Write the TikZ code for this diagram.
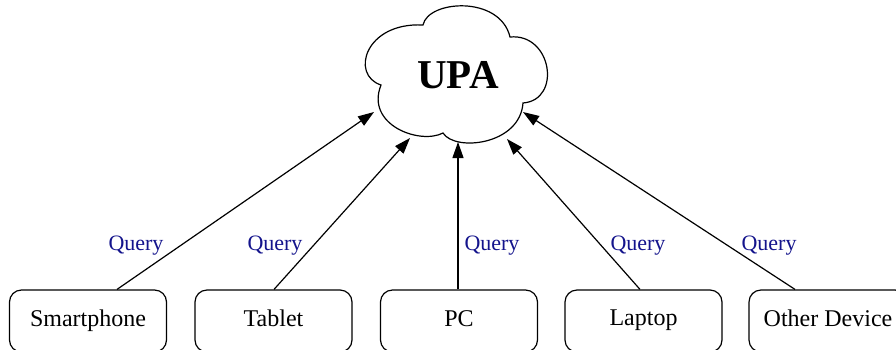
\documentclass[tikz,border=0pt]{standalone}
\usepackage{fontspec}
\setmainfont{Liberation Serif}
\usetikzlibrary{arrows.meta}
\definecolor{querycol}{RGB}{20,20,140}
\begin{document}
\begin{tikzpicture}[x=1pt,y=-1pt,
  device/.style={draw,line width=1.2pt,rounded corners=12pt,minimum width=157pt,
    minimum height=62pt,font=\fontsize{24}{28}\selectfont,text height=16pt,text depth=5pt},
  query/.style={anchor=base,text=querycol,font=\fontsize{22}{26}\selectfont,inner sep=0pt},
  link/.style={line width=1.2pt,-{Triangle[length=16pt,width=11pt]}}]
\useasboundingbox (0,0) rectangle (896,349);
\clip (0,0) rectangle (896,349);

% cloud outline
\draw[line width=1.2pt,fill=white]
  (423,25) .. controls (428,0) and (500,-5) .. (510,37)
  .. controls (552,33) and (562,100) .. (523,103)
  .. controls (520,145) and (455,152) .. (443,133)
  .. controls (420,145) and (365,125) .. (381,85)
  .. controls (350,75) and (365,22) .. cycle;
\node[font=\fontsize{41}{45}\selectfont\bfseries] (upa) at (458,75) {UPA};

% arrow end points on the cloud rim
\coordinate (c1) at (374,112);
\coordinate (c2) at (410,138);
\coordinate (c3) at (458,142);
\coordinate (c4) at (507,139);
\coordinate (c5) at (523,112);

% devices
\node[device] (sp) at (88,321) {Smartphone};
\node[device] (tb) at (273.5,321) {Tablet};
\node[device] (pc) at (459,321) {PC};
\node[device,text height=14pt] (lp) at (643.5,321) {Laptop};
\node[device,minimum width=158pt] (od) at (828,321) {Other Device};

% queries
\draw[link] ([xshift=29pt]sp.north) -- (c1);
\draw[link] ([xshift=0.5pt]tb.north) -- (c2);
\draw[link] ([xshift=-1pt]pc.north) -- (c3);
\draw[link] ([xshift=-3.5pt]lp.north) -- (c4);
\draw[link] ([xshift=-33pt]od.north) -- (c5);

\node[query] (q1) at (136,250) {Query};
\node[query] (q2) at (275,250) {Query};
\node[query] (q3) at (492,250) {Query};
\node[query] (q4) at (638,250) {Query};
\node[query] (q5) at (769,250) {Query};
\end{tikzpicture}
\end{document}
